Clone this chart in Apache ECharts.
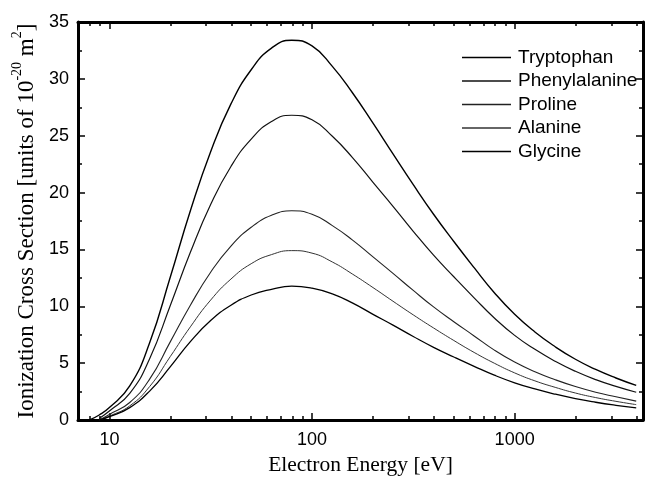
<!DOCTYPE html>
<html>
<head>
<meta charset="utf-8">
<script src="https://cdn.jsdelivr.net/npm/echarts@6/dist/echarts.min.js"></script>
<style>
  html, body { margin: 0; padding: 0; background: #fff; }
  #chart { width: 647px; height: 481px; }
</style>
</head>
<body>
<div id="chart"></div>
<script>
// Electron energy grid (eV)
const energies = [7.94, 8.91, 10, 12.6, 15.8, 20, 25.1, 31.6, 39.8, 50.1, 63.1, 79.4, 100, 126, 158, 200, 251, 316, 398, 501, 631, 794, 1000, 1259, 1585, 1995, 2512, 3162, 3981];

// Ionization cross sections (units of 10^-20 m^2)
const tryptophan    = [0, 0.45, 1.1, 3.0, 6.8, 12.6, 18.4, 23.6, 27.8, 30.8, 32.7, 33.4, 32.9, 31.1, 28.8, 26.1, 23.4, 20.7, 18.1, 15.7, 13.4, 11.2, 9.3, 7.75, 6.45, 5.35, 4.45, 3.7, 3.05];
const phenylalanine = [null, 0.15, 0.8, 2.35, 5.4, 10.1, 14.75, 18.95, 22.3, 24.7, 26.25, 26.8, 26.4, 24.95, 23.1, 20.9, 18.8, 16.6, 14.5, 12.6, 10.75, 8.98, 7.45, 6.22, 5.17, 4.29, 3.56, 2.97, 2.45];
const proline       = [null, 0, 0.5, 1.55, 3.6, 6.9, 10.1, 13.0, 15.3, 16.95, 18.0, 18.4, 18.1, 17.1, 15.85, 14.35, 12.9, 11.4, 9.95, 8.65, 7.4, 6.15, 5.1, 4.25, 3.55, 2.95, 2.45, 2.05, 1.67];
const alanine       = [null, 0, 0.35, 1.25, 2.95, 5.6, 8.2, 10.55, 12.4, 13.75, 14.55, 14.9, 14.68, 13.9, 12.85, 11.65, 10.45, 9.25, 8.1, 7.0, 5.95, 5.0, 4.15, 3.45, 2.88, 2.38, 1.98, 1.65, 1.36];
const glycine       = [null, 0, 0.3, 1.1, 2.55, 4.7, 6.9, 8.75, 10.1, 11.0, 11.5, 11.78, 11.6, 11.1, 10.3, 9.3, 8.35, 7.35, 6.4, 5.55, 4.73, 3.95, 3.28, 2.74, 2.28, 1.89, 1.57, 1.3, 1.07];

const seriesNames = ['Tryptophan', 'Phenylalanine', 'Proline', 'Alanine', 'Glycine'];
const seriesData = [tryptophan, phenylalanine, proline, alanine, glycine];

const xMajorTicks = [10, 100, 1000];
const xMinorTicks = [8, 9, 20, 30, 40, 50, 60, 70, 80, 90, 200, 300, 400, 500, 600, 700, 800, 900, 2000, 3000, 4000];

const X_MIN = 7, X_MAX = 4300, Y_MIN = 0, Y_MAX = 35, Y_STEP = 5;

function pairs(arr) {
  const out = [];
  for (let i = 0; i < energies.length; i++) {
    if (arr[i] !== null) out.push([energies[i], arr[i]]);
  }
  return out;
}

const lineStyles = [
  { color: '#000', width: 1.4 },
  { color: '#111', width: 1.2 },
  { color: '#222', width: 1.1 },
  { color: '#333', width: 1.0 },
  { color: '#000', width: 1.3 }
];

const axisLine = { show: true, lineStyle: { color: '#000', width: 3 } };

function xAxisDef(position, major, showLabel) {
  return {
    type: 'log', logBase: 10, min: X_MIN, max: X_MAX, position: position,
    axisLine: major ? axisLine : { show: false },
    axisTick: { show: true, inside: true, length: major ? 7 : 4, lineStyle: { color: '#000', width: 1.5 },
                customValues: major ? xMajorTicks : xMinorTicks },
    axisLabel: showLabel ? {
      show: true, customValues: xMajorTicks, color: '#000',
      fontFamily: 'Liberation Sans', fontSize: 18, margin: 11,
      formatter: v => String(Math.round(v))
    } : { show: false },
    splitLine: { show: false },
    minorTick: { show: false }
  };
}

function yAxisDef(position, showLabel) {
  return {
    type: 'value', min: Y_MIN, max: Y_MAX, interval: Y_STEP, position: position,
    axisLine: axisLine,
    axisTick: { show: true, inside: true, length: 7, lineStyle: { color: '#000', width: 1.5 } },
    minorTick: { show: true, splitNumber: 2, length: 4, lineStyle: { color: '#000', width: 1.5 } },
    axisLabel: showLabel ? { color: '#000', fontFamily: 'Liberation Sans', fontSize: 18, margin: 9 } : { show: false },
    splitLine: { show: false }
  };
}

const option = {
  animation: false,
  backgroundColor: '#fff',
  grid: { left: 78, right: 4, top: 22, bottom: 53, containLabel: false },
  legend: {
    orient: 'vertical', left: 457, top: 43,
    icon: 'rect', itemWidth: 49, itemHeight: 1.5, itemGap: 4.5,
    textStyle: { color: '#000', fontFamily: 'Liberation Sans', fontSize: 19, padding: [0, 0, 0, 2] },
    data: seriesNames
  },
  xAxis: [
    Object.assign(xAxisDef('bottom', true, true), {
      name: 'Electron Energy [eV]', nameLocation: 'middle', nameGap: 31,
      nameTextStyle: { color: '#000', fontFamily: 'Liberation Serif', fontSize: 21.5 }
    }),
    xAxisDef('bottom', false, false),
    xAxisDef('top', true, false),
    xAxisDef('top', false, false)
  ],
  yAxis: [
    Object.assign(yAxisDef('left', true), {
      name: '{m|Ionization Cross Section [units of 10}{s|-20}{m| m}{s|2}{m|]}',
      nameLocation: 'middle', nameGap: 31, nameRotate: 90,
      nameTextStyle: {
        color: '#000', fontFamily: 'Liberation Serif', fontSize: 23,
        rich: {
          m: { fontFamily: 'Liberation Serif', fontSize: 23, color: '#000', lineHeight: 28, verticalAlign: 'bottom' },
          s: { fontFamily: 'Liberation Serif', fontSize: 14, color: '#000', lineHeight: 28, verticalAlign: 'top' }
        }
      }
    }),
    yAxisDef('right', false)
  ],
  series: seriesNames.map((name, i) => ({
    name: name,
    type: 'line',
    xAxisIndex: 0,
    yAxisIndex: 0,
    data: pairs(seriesData[i]),
    smooth: 0.5,
    symbol: 'none',
    lineStyle: lineStyles[i],
    itemStyle: { color: lineStyles[i].color }
  }))
};

const chart = echarts.init(document.getElementById('chart'), null, { renderer: 'canvas' });
chart.setOption(option);
</script>
</body>
</html>
